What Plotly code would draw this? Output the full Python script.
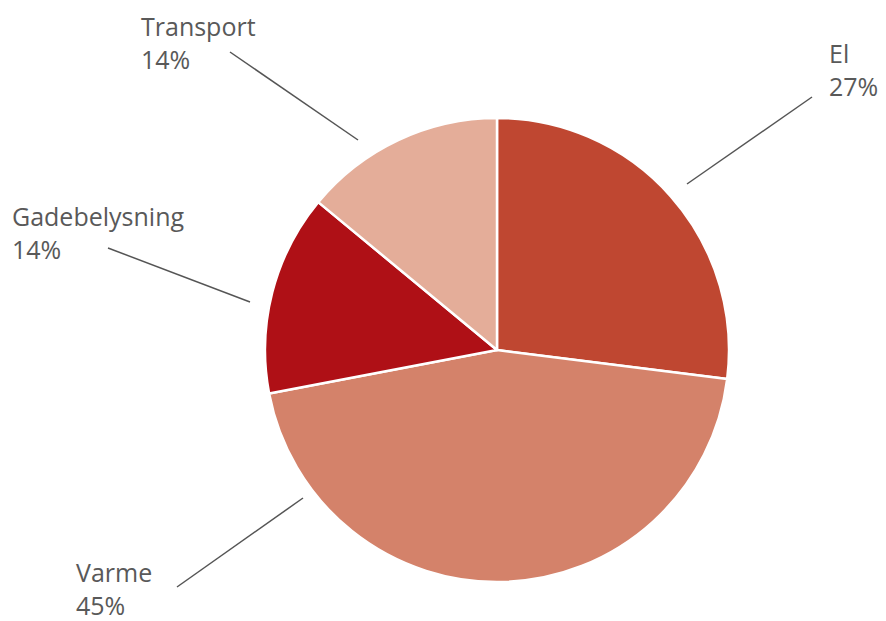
import plotly.graph_objects as go

W, H = 886, 621

categories = ["El", "Varme", "Gadebelysning", "Transport"]
values = [27, 45, 14, 14]
colors = ["#BF4731", "#D4826A", "#AF1016", "#E4AD99"]

# label placement (pixels, layout only)
label_pos = {
    "El": (827, 34),
    "Varme": (74, 553),
    "Gadebelysning": (10, 197),
    "Transport": (139, 7),
}
leader_lines = [
    ((812, 97), (687, 184)),
    ((177, 587), (303, 498)),
    ((108, 248), (250, 302)),
    ((230, 52), (358, 140)),
]

def px(x):
    return x / W

def py(y):
    return 1 - y / H

cx, cy, r = 497, 350, 232

fig = go.Figure(go.Pie(
    labels=categories,
    values=values,
    sort=False,
    direction="clockwise",
    rotation=0,
    marker=dict(colors=colors, line=dict(color="white", width=2.5)),
    textinfo="none",
    hoverinfo="label+percent",
    domain=dict(x=[px(cx - r), px(cx + r)], y=[py(cy + r), py(cy - r)]),
    showlegend=False,
))

total = sum(values)
for cat, v in zip(categories, values):
    x, y = label_pos[cat]
    fig.add_annotation(
        x=px(x), y=py(y), xref="paper", yref="paper",
        xanchor="left", yanchor="top", align="left",
        text=f"{cat}<br>{round(100 * v / total)}%",
        showarrow=False,
        font=dict(family="Open Sans", size=25, color="#595959"),
    )

for (x0, y0), (x1, y1) in leader_lines:
    fig.add_shape(type="line", xref="paper", yref="paper",
                  x0=px(x0), y0=py(y0), x1=px(x1), y1=py(y1),
                  line=dict(color="#555555", width=1.5))

fig.update_layout(
    width=W, height=H,
    margin=dict(l=0, r=0, t=0, b=0),
    paper_bgcolor="white", plot_bgcolor="white",
)

fig.write_html("out.html", config={"displayModeBar": False},
               post_script="document.body.style.margin='0';document.body.style.overflow='hidden';")
